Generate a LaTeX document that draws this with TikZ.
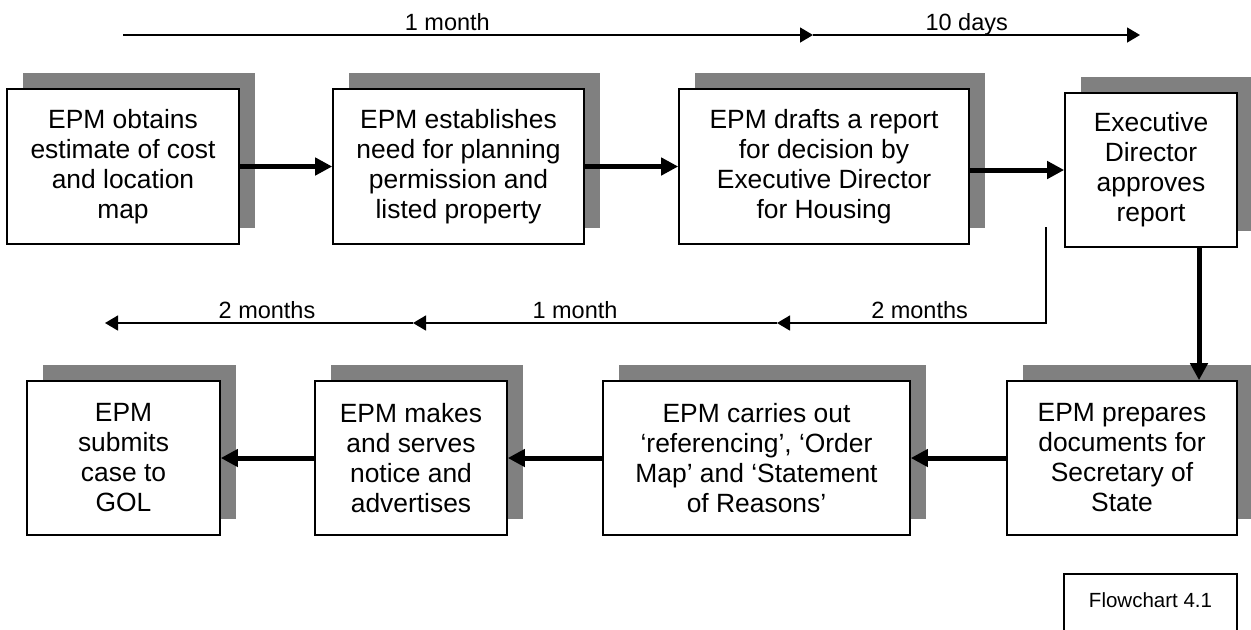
\documentclass[tikz,border=0pt]{standalone}
\usepackage{fontspec}
\setmainfont{Liberation Sans}
\usetikzlibrary{arrows.meta,shadows}
\definecolor{shadowgray}{RGB}{128,128,128}

\begin{document}
\begin{tikzpicture}[x=0.5pt, y=-0.5pt,
        stage/.style={draw, line width=0.8pt, fill=white, align=center, minimum height=77.5pt,
            font=\fontsize{13.2}{15}\selectfont,
            drop shadow={shadow xshift=8pt, shadow yshift=8pt, fill=shadowgray, opacity=1}},
        flow/.style={line width=2.5pt, -{Triangle[length=8.5pt, width=8.5pt]}},
        span/.style={line width=0.7pt, -{Triangle[length=6.5pt, width=7.5pt]}},
        spanlabel/.style={above, inner sep=2pt, text depth=0pt, font=\fontsize{11.75}{14}\selectfont}]
        \useasboundingbox (0,0) rectangle (1251,629);

        \node (obtain) [stage, minimum width=116pt] at (123,166.5) {EPM obtains\\estimate of cost\\and location\\map};
        \node (establish) [stage, minimum width=125.5pt] at (458.5,166.5) {EPM establishes\\need for planning\\permission and\\listed property};
        \node (drafts) [stage, minimum width=145pt] at (824,166.5) {EPM drafts a report\\for decision by\\Executive Director\\for Housing};
        \node (approve) [stage, minimum width=86pt, minimum height=77pt] at (1151,170) {Executive\\Director\\approves\\report};

        \node (prepare) [stage, minimum width=115pt, minimum height=77pt] at (1122,458) {EPM prepares\\documents for\\Secretary of\\State};
        \node (carry) [stage, minimum width=153.5pt, minimum height=77pt] at (756.5,458) {EPM carries out\\‘referencing’, ‘Order\\Map’ and ‘Statement\\of Reasons’};
        \node (serve) [stage, minimum width=96pt, minimum height=77pt] at (411,458) {EPM makes\\and serves\\notice and\\advertises};
        \node (submit) [stage, minimum width=96.5pt, minimum height=77pt] at (123.5,458) {EPM\\submits\\case to\\GOL};

        \draw [flow] (obtain) -- (establish);
        \draw [flow] (establish) -- (drafts);
        \draw [flow] (drafts.east |- approve) -- (approve);
        \coordinate (drop) at (1199,0);
        \draw [flow] (approve.south -| drop) -- (prepare.north -| drop);
        \draw [flow] (prepare) -- (carry);
        \draw [flow] (carry) -- (serve);
        \draw [flow] (serve) -- (submit);

        \coordinate (t0) at (123,35);
        \coordinate (t1) at (813,35);
        \coordinate (t2) at (1140,35);
        \draw [span] (t0) -- node[spanlabel, pos=0.47] {1 month} (t1);
        \draw [span] (t1) -- node[spanlabel, pos=0.47] {10 days} (t2);

        \coordinate (b0) at (1046,227);
        \coordinate (bend) at (1046,323);
        \coordinate (b1) at (777,323);
        \coordinate (b2) at (413,323);
        \coordinate (b3) at (105,323);
        \draw [span] (b0) -- (bend) -- node[spanlabel, pos=0.47] {2 months} (b1);
        \draw [span] (b1) -- node[spanlabel, pos=0.555] {1 month} (b2);
        \draw [span] (b2) -- node[spanlabel, pos=0.474] {2 months} (b3);

        \node (tag) [draw, line width=0.8pt, minimum width=86.5pt, text height=8pt, text depth=12pt, inner ysep=8.5pt,
            anchor=base, font=\fontsize{10.25}{12}\selectfont] at (1150.5,607) {Flowchart 4.1};
    \end{tikzpicture}
\end{document}
